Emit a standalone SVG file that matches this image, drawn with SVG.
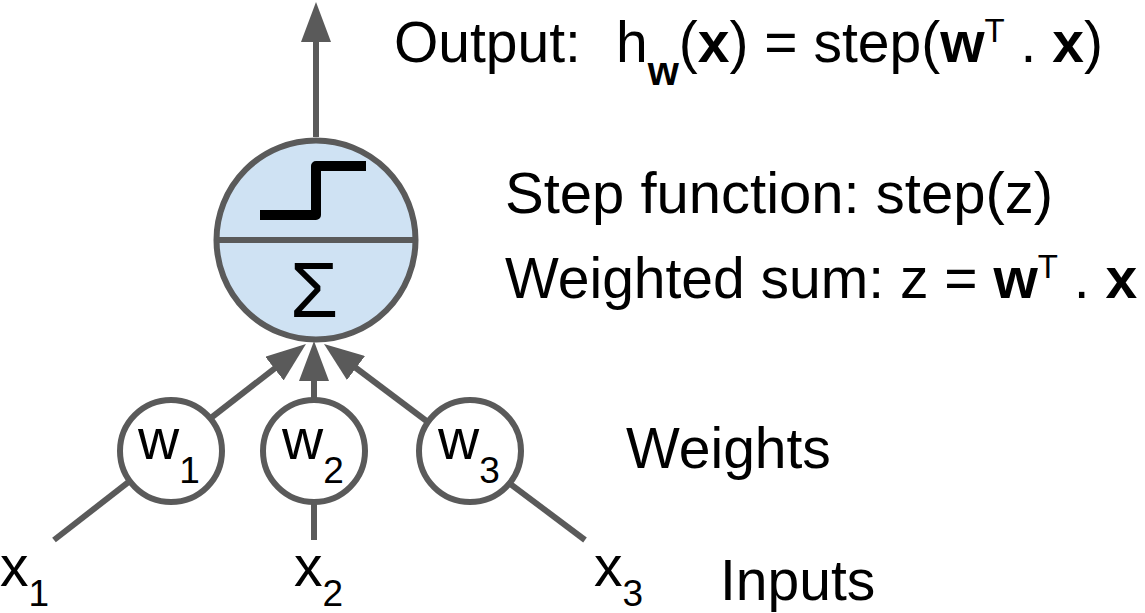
<svg xmlns="http://www.w3.org/2000/svg" width="1145" height="613" viewBox="0 0 1145 613">
<style>
  .ln{stroke:#5a5a5a;stroke-width:6;fill:none}
  .wc{fill:#ffffff;stroke:#5a5a5a;stroke-width:6}
  .t{font-family:"Liberation Sans",Arial,sans-serif;font-size:57px;fill:#000}
  .b{font-weight:bold}
  .sub{font-size:37px}
  .sup{font-size:33px}
  .big{font-size:58px}
</style>
<defs>
  <marker id="ah" markerUnits="userSpaceOnUse" markerWidth="40" markerHeight="30" viewBox="0 0 40 30" refX="20" refY="15" orient="auto">
    <path d="M0,0 L40,15 L0,30 z" fill="#5a5a5a"/>
  </marker>
</defs>
<rect width="1145" height="613" fill="#ffffff"/>
<g id="connectors">
  <line class="ln" x1="316" y1="137" x2="316" y2="22" marker-end="url(#ah)"/>
  <line class="ln" x1="54" y1="540" x2="290.2" y2="356.3" marker-end="url(#ah)"/>
  <line class="ln" x1="314" y1="540" x2="314" y2="361" marker-end="url(#ah)"/>
  <line class="ln" x1="585" y1="540" x2="340" y2="356" marker-end="url(#ah)"/>
</g>
<g id="neuron">
  <circle cx="316" cy="240" r="99.5" fill="#cfe2f3" stroke="#5a5a5a" stroke-width="6"/>
  <line class="ln" x1="217" y1="240" x2="415" y2="240"/>
  <path d="M260,215 H316 V166 H366" fill="none" stroke="#000" stroke-width="10" stroke-linejoin="round"/>
  <text x="314" y="317" text-anchor="middle" style="font-family:'Liberation Sans',Arial,sans-serif;font-size:78px;fill:#000">Σ</text>
</g>
<g id="w1">
  <circle class="wc" cx="171" cy="451" r="51"/>
  <text class="t" x="138" y="459">w<tspan class="sub" dy="24">1</tspan></text>
</g>
<g id="w2">
  <circle class="wc" cx="314" cy="451" r="51"/>
  <text class="t" x="282" y="459">w<tspan class="sub" dy="24">2</tspan></text>
</g>
<g id="w3">
  <circle class="wc" cx="470" cy="451" r="51"/>
  <text class="t" x="438" y="459">w<tspan class="sub" dy="24">3</tspan></text>
</g>
<g id="x1"><text class="t" x="0" y="586">x<tspan class="sub" dy="20">1</tspan></text></g>
<g id="x2"><text class="t" x="294" y="586">x<tspan class="sub" dy="20">2</tspan></text></g>
<g id="x3"><text class="t" x="594" y="586">x<tspan class="sub" dy="20">3</tspan></text></g>
<g id="labels">
  <text class="t" x="394" y="62">Output:<tspan x="616">h</tspan><tspan class="b" font-size="40" dy="23">w</tspan><tspan dy="-23">(</tspan><tspan class="b">x</tspan>) = step(<tspan class="b">w</tspan><tspan class="sup" dy="-20">T</tspan><tspan dy="20"> . </tspan><tspan class="b">x</tspan>)</text>
  <text class="t big" x="505" y="213">Step function: step(z)</text>
  <text class="t" x="505" y="298">Weighted sum: z = <tspan class="b">w</tspan><tspan class="sup" dy="-20">T</tspan><tspan dy="20"> . </tspan><tspan class="b">x</tspan></text>
  <text class="t" x="626" y="468">Weights</text>
  <text class="t" x="720" y="600">Inputs</text>
</g>
</svg>
